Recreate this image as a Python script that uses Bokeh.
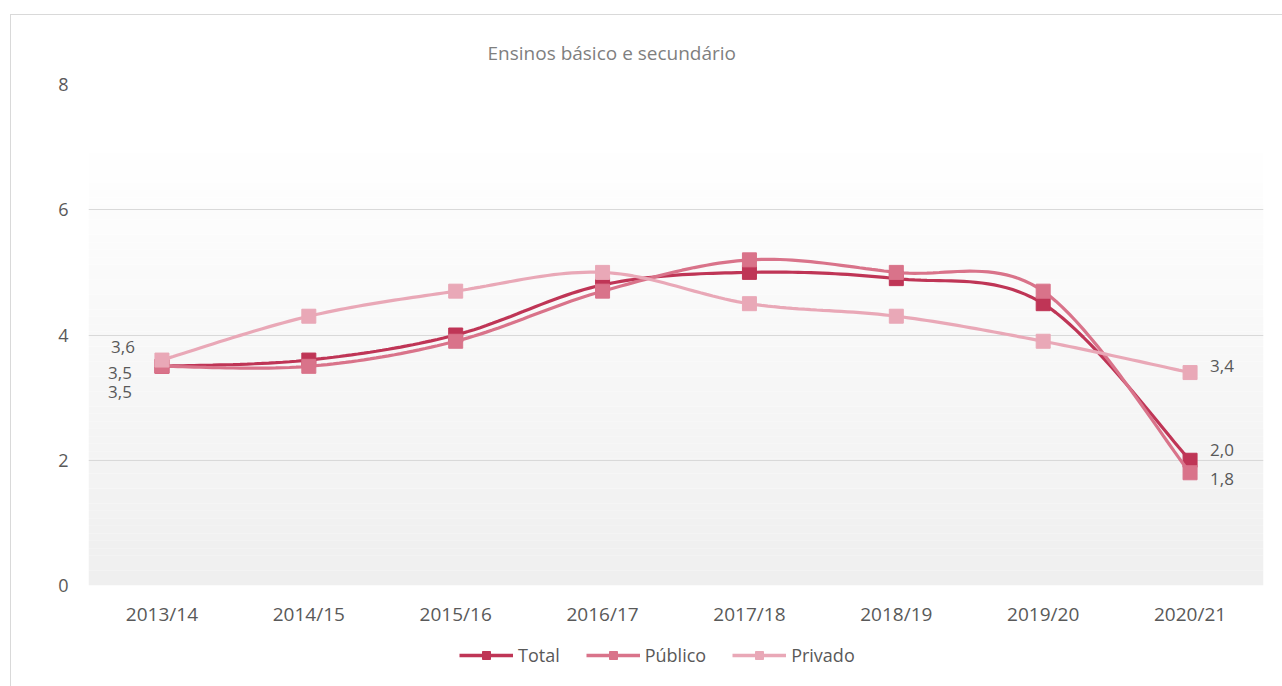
from bokeh.plotting import figure
from bokeh.layouts import column
from bokeh.models import (Range1d, FixedTicker, Legend, LegendItem, BoxAnnotation,
                          ColumnDataSource)
from bokeh.core.properties import value
from bokeh.embed import file_html
from bokeh.resources import INLINE

# ---- data ----
categories = ["2013/14", "2014/15", "2015/16", "2016/17", "2017/18", "2018/19", "2019/20", "2020/21"]
total = [3.5, 3.6, 4.0, 4.8, 5.0, 4.9, 4.5, 2.0]
publico = [3.5, 3.5, 3.9, 4.7, 5.2, 5.0, 4.7, 1.8]
privado = [3.6, 4.3, 4.7, 5.0, 4.5, 4.3, 3.9, 3.4]
series_names = ["Total", "Público", "Privado"]
y_ticks = [0, 2, 4, 6, 8]
title_text = "Ensinos básico e secundário"

colors = {"Total": "#BF3556", "Público": "#D9738A", "Privado": "#E9A8B7"}
FONT = "Open Sans"
TXT = "#595959"


def smooth(ys, steps=24):
    """Excel-like smoothed line (cubic Bezier / Catmull-Rom) through the points."""
    n = len(ys)
    pts = [(float(i), float(v)) for i, v in enumerate(ys)]
    xs_out, ys_out = [], []
    for i in range(n - 1):
        p0 = pts[i - 1] if i > 0 else pts[i]
        p1 = pts[i]
        p2 = pts[i + 1]
        p3 = pts[i + 2] if i + 2 < n else pts[i + 1]
        c1 = (p1[0] + (p2[0] - p0[0]) / 6, p1[1] + (p2[1] - p0[1]) / 6)
        c2 = (p2[0] - (p3[0] - p1[0]) / 6, p2[1] - (p3[1] - p1[1]) / 6)
        for k in range(steps + (1 if i == n - 2 else 0)):
            t = k / steps
            a = (1 - t) ** 3
            b = 3 * (1 - t) ** 2 * t
            c = 3 * (1 - t) * t ** 2
            d = t ** 3
            xs_out.append(a * p1[0] + b * c1[0] + c * c2[0] + d * p2[0])
            ys_out.append(a * p1[1] + b * c1[1] + c * c2[1] + d * p2[1])
    return xs_out, ys_out


W = 1271
p = figure(width=W, height=617, output_backend="svg", toolbar_location=None,
           x_range=Range1d(-0.5, len(categories) - 0.5), y_range=Range1d(0, 8),
           min_border_left=77, min_border_right=19, min_border_top=69, min_border_bottom=47)

p.outline_line_color = None
p.background_fill_color = "#ffffff"
p.border_fill_color = "#ffffff"

# gradient background
nb = 60
g_top = 7.15
for k in range(nb):
    b = g_top * k / nb
    t_ = g_top * (k + 1) / nb
    f = (k + 0.5) / nb
    g = int(round(239 + (255 - 239) * f))
    p.add_layout(BoxAnnotation(bottom=b, top=t_, fill_color=(g, g, g), fill_alpha=1.0,
                               line_alpha=0, level="image"))

# title
p.title.text = title_text
p.title.align = "left"
p.title.offset = 399
p.title.text_font = FONT
p.title.text_font_size = "19px"
p.title.text_font_style = "normal"
p.title.text_color = "#7f7f7f"
p.title.standoff = 37

# axes
p.xaxis.ticker = FixedTicker(ticks=list(range(len(categories))))
p.xaxis.major_label_overrides = {i: c for i, c in enumerate(categories)}
p.yaxis.ticker = FixedTicker(ticks=y_ticks)
for ax in (p.xaxis, p.yaxis):
    ax.axis_line_color = None
    ax.major_tick_line_color = None
    ax.minor_tick_line_color = None
    ax.major_tick_out = 0
    ax.major_tick_in = 0
    ax.minor_tick_out = 0
    ax.minor_tick_in = 0
    ax.major_label_text_font = FONT
    ax.major_label_text_color = TXT
p.xaxis.major_label_text_font_size = "19px"
p.yaxis.major_label_text_font_size = "18px"
p.yaxis.major_label_standoff = 20
p.xaxis.major_label_standoff = 15

p.xgrid.grid_line_color = None
p.ygrid.ticker = FixedTicker(ticks=y_ticks)
p.ygrid.grid_line_color = "#d9d9d9"
p.ygrid.grid_line_width = 1.2

# series
xs_idx = list(range(len(categories)))
series_vals = [total, publico, privado]
for name, vals in zip(series_names, series_vals):
    sx, sy = smooth(vals)
    p.line(sx, sy, line_color=colors[name], line_width=3.2)
    p.scatter(xs_idx, vals, marker="square", size=14, fill_color=colors[name],
              line_color=colors[name])

# data labels (first and last points)
lab_series = [privado, total, publico, privado, total, publico]
lab_idx = [0, 0, 0, len(categories) - 1, len(categories) - 1, len(categories) - 1]
lab_x = [lab_idx[i] for i in range(6)]
lab_y = [lab_series[i][lab_idx[i]] for i in range(6)]
lab_text = [("%.1f" % v).replace(".", ",") for v in lab_y]
lab_align = ["right"] * 3 + ["left"] * 3
lab_dx = [-27, -30, -30, 20, 20, 20]
lab_dy = [-13, 7, 26, -7, -10, 6]
src = ColumnDataSource(dict(x=lab_x, y=lab_y, t=lab_text, a=lab_align, dx=lab_dx, dy=lab_dy))
p.text("x", "y", text="t", source=src, text_align="a", text_baseline="middle",
       x_offset="dx", y_offset="dy", text_font=value(FONT), text_font_size="17px",
       text_color=TXT)

# legend strip (separate figure below the chart; its own copies of the series
# lie outside its visible range, only their legend glyphs show)
lg = figure(width=W, height=54, output_backend="svg", toolbar_location=None,
            x_range=Range1d(100, 101), y_range=Range1d(100, 101),
            x_axis_location=None, y_axis_location=None,
            min_border_left=77, min_border_right=19, min_border_top=0, min_border_bottom=0)
lg.outline_line_color = None
lg.grid.visible = False
lg.border_fill_color = "#ffffff"
lg.background_fill_color = "#ffffff"
items = []
for name, vals in zip(series_names, series_vals):
    lr = lg.line(xs_idx, vals, line_color=colors[name], line_width=3.4)
    sr = lg.scatter(xs_idx, vals, marker="square", size=13, fill_color=colors[name],
                    line_color=colors[name])
    items.append(LegendItem(label=name, renderers=[lr, sr]))
legend = Legend(items=items, orientation="horizontal", location=(367, 15),
                border_line_alpha=0, background_fill_alpha=0,
                label_text_font=FONT, label_text_font_size="18px", label_text_color=TXT,
                glyph_width=54, glyph_height=20, spacing=26, label_standoff=5,
                margin=0, padding=4)
lg.add_layout(legend, "center")

layout = column(p, lg, spacing=0)
layout.margin = (14, 0, 0, 10)
layout.styles = {"border-left": "1px solid #d9d9d9", "border-top": "1px solid #d9d9d9"}

open("out.html", "w").write(file_html(layout, INLINE))
